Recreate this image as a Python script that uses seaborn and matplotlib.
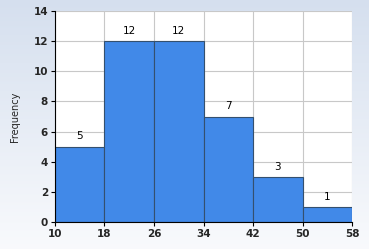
import numpy as np
import pandas as pd
import matplotlib
matplotlib.use("Agg")
import matplotlib.pyplot as plt
import seaborn as sns

bin_edges = [10, 18, 26, 34, 42, 50, 58]
bin_centers = [14, 22, 30, 38, 46, 54]
counts = [5, 12, 12, 7, 3, 1]
y_ticks = [0, 2, 4, 6, 8, 10, 12, 14]

df = pd.DataFrame({"value": bin_centers, "count": counts})

sns.set_style("white")
plt.rcParams["font.family"] = ["DejaVu Sans"]

fig = plt.figure(figsize=(3.69, 2.49), dpi=100)

# gradient background
bg = fig.add_axes([0, 0, 1, 1], zorder=-10)
grad = np.linspace(0, 1, 256).reshape(-1, 1)
top = np.array([0.835, 0.875, 0.935])
bot = np.array([0.975, 0.98, 0.99])
img = top[None, None, :] * (1 - grad[:, :, None]) + bot[None, None, :] * grad[:, :, None]
bg.imshow(img, aspect="auto", extent=[0, 1, 0, 1])
bg.axis("off")

ax = fig.add_axes([0.149, 0.108, 0.805, 0.848])
ax.set_facecolor("white")
sns.histplot(data=df, x="value", weights="count", bins=bin_edges, ax=ax,
             color="#4189e8", edgecolor="#34506e", linewidth=0.8, alpha=1.0)

ax.set_xlim(10, 58)
ax.set_ylim(0, 14)
ax.set_xticks(bin_edges)
ax.set_yticks(y_ticks)
ax.grid(True, color="#c8c8c8", linewidth=0.8)
ax.set_axisbelow(True)
for s in ["top", "right"]:
    ax.spines[s].set_visible(False)
for s in ["left", "bottom"]:
    ax.spines[s].set_color("black")
    ax.spines[s].set_linewidth(0.8)
ax.tick_params(axis="both", length=3, width=0.8, color="black", labelsize=7.5, pad=2, direction="out", bottom=True, left=True)
for lbl in ax.get_xticklabels() + ax.get_yticklabels():
    lbl.set_fontweight("bold")
ax.set_xlabel("")
ax.set_ylabel("Frequency", fontsize=7)
ax.yaxis.set_label_coords(-0.118, 0.5)

for c, n in zip(bin_centers, counts):
    ax.text(c, n + 0.35, str(n), ha="center", va="bottom", fontsize=7.5, color="black")

fig.savefig("out.png", dpi=100)
